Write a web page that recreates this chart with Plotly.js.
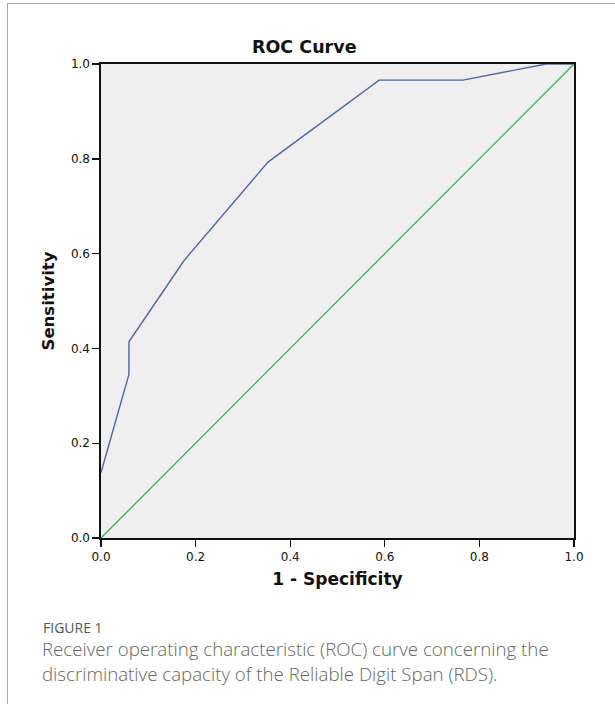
<!DOCTYPE html>
<html>
<head>
<meta charset="utf-8">
<script src="https://cdn.plot.ly/plotly-3.0.1.min.js"></script>
<style>
html,body{margin:0;padding:0;background:#fff;}
#wrap{position:relative;width:615px;height:704px;overflow:hidden;}
#frame{position:absolute;left:7px;top:3px;width:640px;height:760px;border-top:1px solid #aaa;border-left:1px solid #aaa;pointer-events:none;}
#chart{position:absolute;left:0;top:0;width:615px;height:704px;}
</style>
</head>
<body>
<div id="wrap"><div id="chart"></div><div id="frame"></div></div>
<script>
// ROC curve (1 - specificity vs sensitivity)
const fpr = [0, 0.059, 0.059, 0.176, 0.353, 0.588, 0.765, 0.941, 1.0];
const tpr = [0.138, 0.345, 0.414, 0.586, 0.793, 0.966, 0.966, 1.0, 1.0];
// reference line
const refX = [0, 1];
const refY = [0, 1];
const tickVals = [0, 0.2, 0.4, 0.6, 0.8, 1.0];
const tickText = ['0.0', '0.2', '0.4', '0.6', '0.8', '1.0'];
const chartTitle = 'ROC Curve';
const xTitle = '1 - Specificity';
const yTitle = 'Sensitivity';
const figLabel = 'FIGURE 1';
const captionLines = [
  'Receiver operating characteristic (ROC) curve concerning the',
  'discriminative capacity of the Reliable Digit Span (RDS).'
];

const L = 101, R = 574, T = 64, B = 538, W = 615, H = 704;
const px = v => (v - L) / (R - L);
const py = v => (B - v) / (B - T);

const traces = [
  {x: refX, y: refY, mode: 'lines', line: {color: '#3fae5a', width: 1.3}, hoverinfo: 'skip', showlegend: false},
  {x: fpr, y: tpr, mode: 'lines', line: {color: '#5663a3', width: 1.4}, showlegend: false}
];

const axisCommon = {
  range: [0, 1], tickvals: tickVals, ticktext: tickText,
  ticks: 'outside', ticklen: 7, tickwidth: 1.4, tickcolor: '#111',
  showline: true, linecolor: '#111', linewidth: 1.6, mirror: true,
  showgrid: false, zeroline: false, fixedrange: true,
  tickfont: {family: 'DejaVu Sans', size: 12, color: '#111'}
};

const layout = {
  width: W, height: H,
  margin: {l: L, r: W - R, t: T, b: H - B},
  paper_bgcolor: 'rgba(0,0,0,0)',
  plot_bgcolor: '#efefef',
  xaxis: Object.assign({}, axisCommon, {
    title: {text: xTitle, standoff: 10, font: {family: 'DejaVu Sans', size: 17, color: '#111', weight: 'bold'}}
  }),
  yaxis: Object.assign({}, axisCommon, {
    title: {text: yTitle, standoff: 12, font: {family: 'DejaVu Sans', size: 16.5, color: '#111', weight: 'bold'}}
  }),
  annotations: [
    {text: '<b>' + chartTitle + '</b>', xref: 'paper', yref: 'paper', x: px(304), y: py(47),
     xanchor: 'center', yanchor: 'middle', showarrow: false,
     font: {family: 'DejaVu Sans', size: 17.5, color: '#111'}},
    {text: figLabel, xref: 'paper', yref: 'paper', x: px(41), y: py(627),
     xanchor: 'left', yanchor: 'middle', showarrow: false,
     font: {family: 'Open Sans', size: 14, color: '#555'}},
    {text: captionLines[0], xref: 'paper', yref: 'paper', x: px(40), y: py(648),
     xanchor: 'left', yanchor: 'middle', showarrow: false,
     font: {family: 'Open Sans', size: 18.7, color: '#666', weight: 300}},
    {text: captionLines[1], xref: 'paper', yref: 'paper', x: px(40), y: py(673),
     xanchor: 'left', yanchor: 'middle', showarrow: false,
     font: {family: 'Open Sans', size: 18.7, color: '#666', weight: 300}}
  ]
};

Plotly.newPlot('chart', traces, layout, {displayModeBar: false, staticPlot: true});
</script>
</body>
</html>
